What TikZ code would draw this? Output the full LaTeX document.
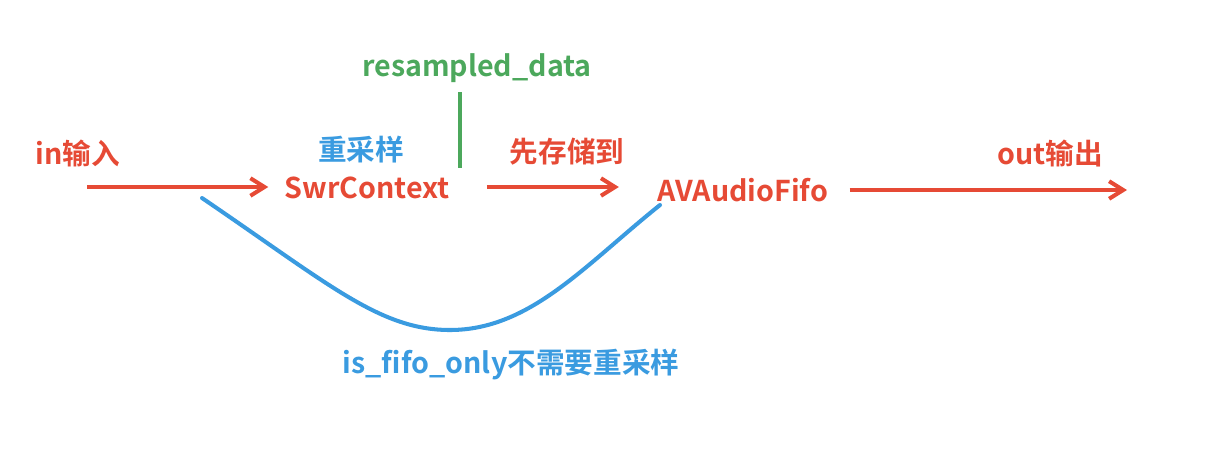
\documentclass[tikz,border=0pt]{standalone}
\usepackage{fontspec}
\newfontfamily\cjk{Noto Sans CJK SC}[BoldFont={* Bold}]
\usetikzlibrary{arrows.meta,positioning,calc}
\definecolor{flowRed}{HTML}{E64A35}
\definecolor{skipBlue}{HTML}{3A9BE0}
\definecolor{dataGreen}{HTML}{4CA85C}
\begin{document}
\begin{tikzpicture}[x=0.02cm,y=-0.02cm,
  txt/.style={font=\cjk\bfseries\fontsize{16.3}{19}\selectfont,inner sep=0pt},
  redtxt/.style={txt,text=flowRed},
  bluetxt/.style={txt,text=skipBlue},
  greentxt/.style={txt,text=dataGreen},
  flow/.style={flowRed,line width=2.3pt,-{Straight Barb[length=8pt,width=10pt]}},
  skip/.style={skipBlue,line width=2.3pt,line cap=round}]
  \useasboundingbox (0,0) rectangle (1228,464);
  \node[redtxt] (swr) at (367,188) {SwrContext};
  \node[bluetxt] (resample) at (361,150) {重采样};
  \node[greentxt] (rsdata) at (477,68) {resampled\_data};
  \node[redtxt] (store) at (567,152) {先存储到};
  \node[redtxt] (fifo) at (743,190) {AVAudioFifo};
  \node[redtxt] (inlbl) at (78,153) {in输入};
  \node[redtxt] (outlbl) at (1050,153) {out输出};
  \node[bluetxt] (fifoonly) at (511,364) {is\_fifo\_only不需要重采样};
  \coordinate (inpt) at (87,187);
  \coordinate (outpt) at (1127,190);
  \coordinate (gtop) at (460,92);
  \coordinate (gbot) at (460,168);
  \coordinate (skipa) at (202,198);
  \coordinate (skipb) at (660,205);
  \draw[flow,shorten >=9pt] (inpt) -- (inpt -| swr.west);
  \draw[flow,shorten <=21pt,shorten >=22pt] (swr.east |- inpt) -- (fifo.west |- inpt);
  \draw[flow,shorten <=12pt] (fifo.east |- outpt) -- (outpt);
  \draw[dataGreen,line width=2.3pt] (gtop) -- (gbot);
  \draw[skip] (skipa) .. controls (330,285) and (380,330) .. (450,330)
    .. controls (530,330) and (585,265) .. (skipb);
\end{tikzpicture}
\end{document}
